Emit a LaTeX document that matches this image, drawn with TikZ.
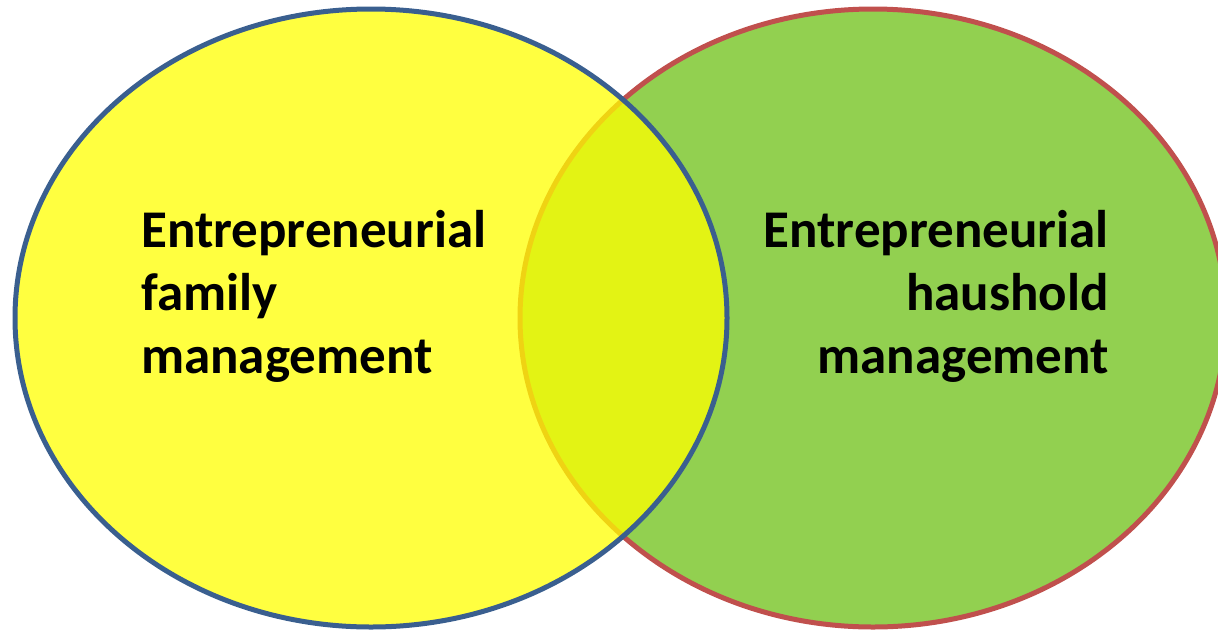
\documentclass[tikz,border=0pt]{standalone}
\usepackage{fontspec}
\setmainfont{Carlito}
\definecolor{vgreen}{HTML}{92D050}
\definecolor{vred}{HTML}{C0504D}
\definecolor{vblue}{HTML}{3A5F8F}
\definecolor{vyellow}{HTML}{FFFF00}
\tikzset{
  border/.style={line width=5pt},
  label/.style={font=\fontsize{53}{63}\selectfont\bfseries, inner sep=0pt, text=black}
}
\begin{document}
\begin{tikzpicture}[x=1pt,y=-1pt]
\useasboundingbox (0,0) rectangle (1218,630);
\clip (0,0) rectangle (1218,630);
% right set
\path[fill=vgreen, draw=vred, border] (873,318) ellipse [x radius=353, y radius=309];
% left set
\path[fill=vyellow, fill opacity=0.75] (371,318) ellipse [x radius=356, y radius=309];
\path[draw=vblue, border] (371,318) ellipse [x radius=356, y radius=309];
\node[label, align=left, anchor=north west] (lefttext) at (141,210)
  {Entrepreneurial\\family\\management};
\node[label, align=right, anchor=north east] (righttext) at (1109,210)
  {Entrepreneurial\\haushold\\management};
\end{tikzpicture}
\end{document}
